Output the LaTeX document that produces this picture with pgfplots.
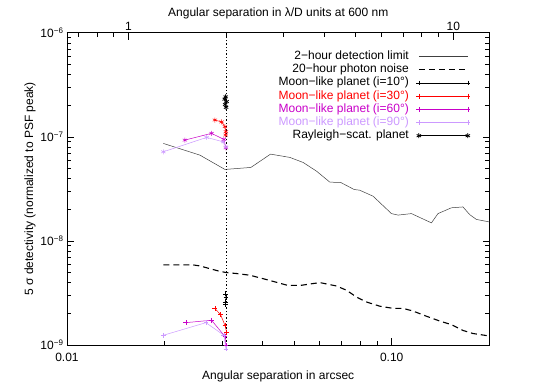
\documentclass[border=0pt]{standalone}
\usepackage{fontspec}
\setmainfont{Liberation Sans}
\usepackage{pgfplots}
\pgfplotsset{compat=1.18}

\definecolor{moonred}{RGB}{255,0,0}
\definecolor{moonmag}{RGB}{200,0,200}
\definecolor{moonlav}{RGB}{204,153,255}

\begin{document}
\begin{tikzpicture}[font=\fontsize{12}{14}\selectfont]
\pgfplotsset{
  every axis/.append style={
    scale only axis, width=422.5pt, height=312.3pt,
    tick align=inside, major tick length=7pt, minor tick length=4pt,
    axis line style={line width=0.7pt},
    every tick/.style={black, line width=0.6pt},
  },
}

% top axis: lambda/D at 600 nm (8 m telescope)
\begin{axis}[
    xmode=log, xmin=0.6464, xmax=12.93,
    ymin=0, ymax=1,
    axis x line*=top, hide y axis,
    xtick={1,10}, xticklabels={1,10},
    minor xtick={0.7,0.8,0.9,2,3,4,5,6,7,8,9},
    xticklabel style={yshift=-1.5pt},
    xlabel={Angular separation in λ/D units at 600 nm},
    xlabel style={yshift=-4pt},
  ]
\end{axis}

\begin{axis}[
    name=main,
    xmode=log, ymode=log,
    xmin=0.01, xmax=0.2, ymin=1e-9, ymax=1e-6,
    xtick pos=left, ytick pos=both,
    xtick={0.01,0.1}, xticklabels={0.01,0.10},
    minor xtick={0.02,0.03,0.04,0.05,0.06,0.07,0.08,0.09,0.2},
    ytick={1e-9,1e-8,1e-7,1e-6},
    yticklabels={10\textsuperscript{−9},10\textsuperscript{−8},10\textsuperscript{−7},10\textsuperscript{−6}},
    minor ytick={2e-9,3e-9,4e-9,5e-9,6e-9,7e-9,8e-9,9e-9,
                 2e-8,3e-8,4e-8,5e-8,6e-8,7e-8,8e-8,9e-8,
                 2e-7,3e-7,4e-7,5e-7,6e-7,7e-7,8e-7,9e-7},
    xticklabel style={yshift=-5pt},
    xlabel={Angular separation in arcsec},
    xlabel style={yshift=-2pt},
    ylabel={5 σ detectivity (normalized to PSF peak)},
    ylabel style={yshift=-2pt},
    clip=false,
    legend style={draw=none, fill=none, at={(0.962,0.952)}, anchor=north east,
      row sep=0pt,
      nodes={inner sep=0.6pt, text height=9pt, text depth=3pt},
      /tikz/every odd column/.append style={column sep=7pt}},
    legend cell align=right,
    legend plot pos=right,
    legend image code/.code={\draw[mark repeat=1,#1] plot coordinates {(0pt,0pt) (49pt,0pt)};},
  ]

  % 2-hour detection limit
  \addplot[black!75, line width=0.5pt] coordinates {
    (0.0198,8.64e-8) (0.02566,6.67e-8) (0.03064,4.86e-8) (0.03684,5.08e-8)
    (0.04235,6.82e-8) (0.04856,6.34e-8) (0.05336,5.67e-8) (0.05866,4.68e-8)
    (0.06447,3.67e-8) (0.06969,3.64e-8) (0.07656,3.12e-8) (0.07969,3.07e-8)
    (0.08759,2.69e-8) (0.0998,1.83e-8) (0.1046,1.77e-8) (0.1150,1.83e-8)
    (0.1325,1.49e-8) (0.1388,1.83e-8) (0.1526,2.08e-8) (0.1657,2.12e-8)
    (0.1738,1.79e-8) (0.1822,1.61e-8) (0.2000,1.52e-8)
  };
  \addlegendentry{2−hour detection limit}

  % 20-hour photon noise
  \addplot[black, line width=1.1pt, dash pattern=on 6pt off 4pt] coordinates {
    (0.0198,5.88e-9) (0.02447,5.88e-9) (0.02566,5.75e-9) (0.02921,5.15e-9)
    (0.03086,4.97e-9) (0.03329,4.86e-9) (0.03658,4.68e-9) (0.04117,4.25e-9)
    (0.04797,3.73e-9) (0.05276,3.75e-9) (0.06004,3.98e-9) (0.06760,3.69e-9)
    (0.07255,3.36e-9) (0.07788,2.89e-9) (0.08361,2.59e-9) (0.09185,2.36e-9)
    (0.1009,2.25e-9) (0.1083,2.25e-9) (0.1163,2.12e-9) (0.1279,1.89e-9)
    (0.1405,1.70e-9) (0.1526,1.57e-9) (0.1657,1.38e-9) (0.1779,1.29e-9)
    (0.2000,1.22e-9)
  };
  \addlegendentry{20−hour photon noise}

  % Moon-like planets, lower cluster
  \addplot[black, line width=0.5pt, mark=+, mark size=2.4pt] coordinates {
    (0.0308,3.1e-9) (0.0309,2.85e-9) (0.0307,2.6e-9) (0.0308,2.45e-9)
  };
  \addlegendentry[text=black]{Moon−like planet (i=10°)}

  \addplot[moonred, line width=0.5pt, mark=+, mark size=2.4pt] coordinates {
    (0.02853,2.24e-9) (0.02971,1.96e-9) (0.03064,1.55e-9) (0.03101,1.33e-9)
  };
  \addlegendentry[text=moonred]{Moon−like planet (i=30°)}

  \addplot[moonmag, line width=0.5pt, mark=+, mark size=2.4pt] coordinates {
    (0.02323,1.64e-9) (0.02787,1.73e-9) (0.03064,1.21e-9) (0.03086,0.99e-9)
  };
  \addlegendentry[text=moonmag]{Moon−like planet (i=60°)}

  \addplot[moonlav, line width=0.5pt, mark=+, mark size=2.4pt] coordinates {
    (0.0198,1.24e-9) (0.02678,1.64e-9) (0.03042,1.24e-9) (0.03086,0.92e-9)
  };
  \addlegendentry[text=moonlav]{Moon−like planet (i=90°)}

  % Rayleigh-scattering planet, upper cluster
  \addplot[black, line width=0.5pt, mark=asterisk, mark size=2.5pt,
           mark options={line width=0.8pt}] coordinates {
    (0.0308,2.42e-7) (0.0306,2.30e-7) (0.0310,2.18e-7) (0.0307,2.05e-7) (0.0309,1.92e-7)
  };
  \addlegendentry{Rayleigh−scat. planet}

  \addplot[moonred, line width=0.5pt, mark=asterisk, mark size=2.5pt, forget plot] coordinates {
    (0.02853,1.45e-7) (0.02992,1.39e-7) (0.03064,1.25e-7) (0.03086,1.12e-7) (0.03080,1.04e-7)
  };
  \addplot[moonmag, line width=0.5pt, mark=asterisk, mark size=2.5pt, forget plot] coordinates {
    (0.02307,9.30e-8) (0.02787,1.08e-7) (0.03042,9.44e-8) (0.03086,7.83e-8)
  };
  \addplot[moonlav, line width=0.5pt, mark=asterisk, mark size=2.5pt, forget plot] coordinates {
    (0.0198,7.18e-8) (0.02691,9.87e-8) (0.03027,8.95e-8) (0.03086,8.0e-8)
  };

  % 2 lambda/D limit
  \addplot[black, line width=1.3pt, dotted, forget plot] coordinates {
    (0.03094,1e-9) (0.03094,1e-6)
  };
\end{axis}

\path ([shift={(-67pt,-44pt)}]main.south west) rectangle ([shift={(55.5pt,32.7pt)}]main.north east);
\end{tikzpicture}
\end{document}
